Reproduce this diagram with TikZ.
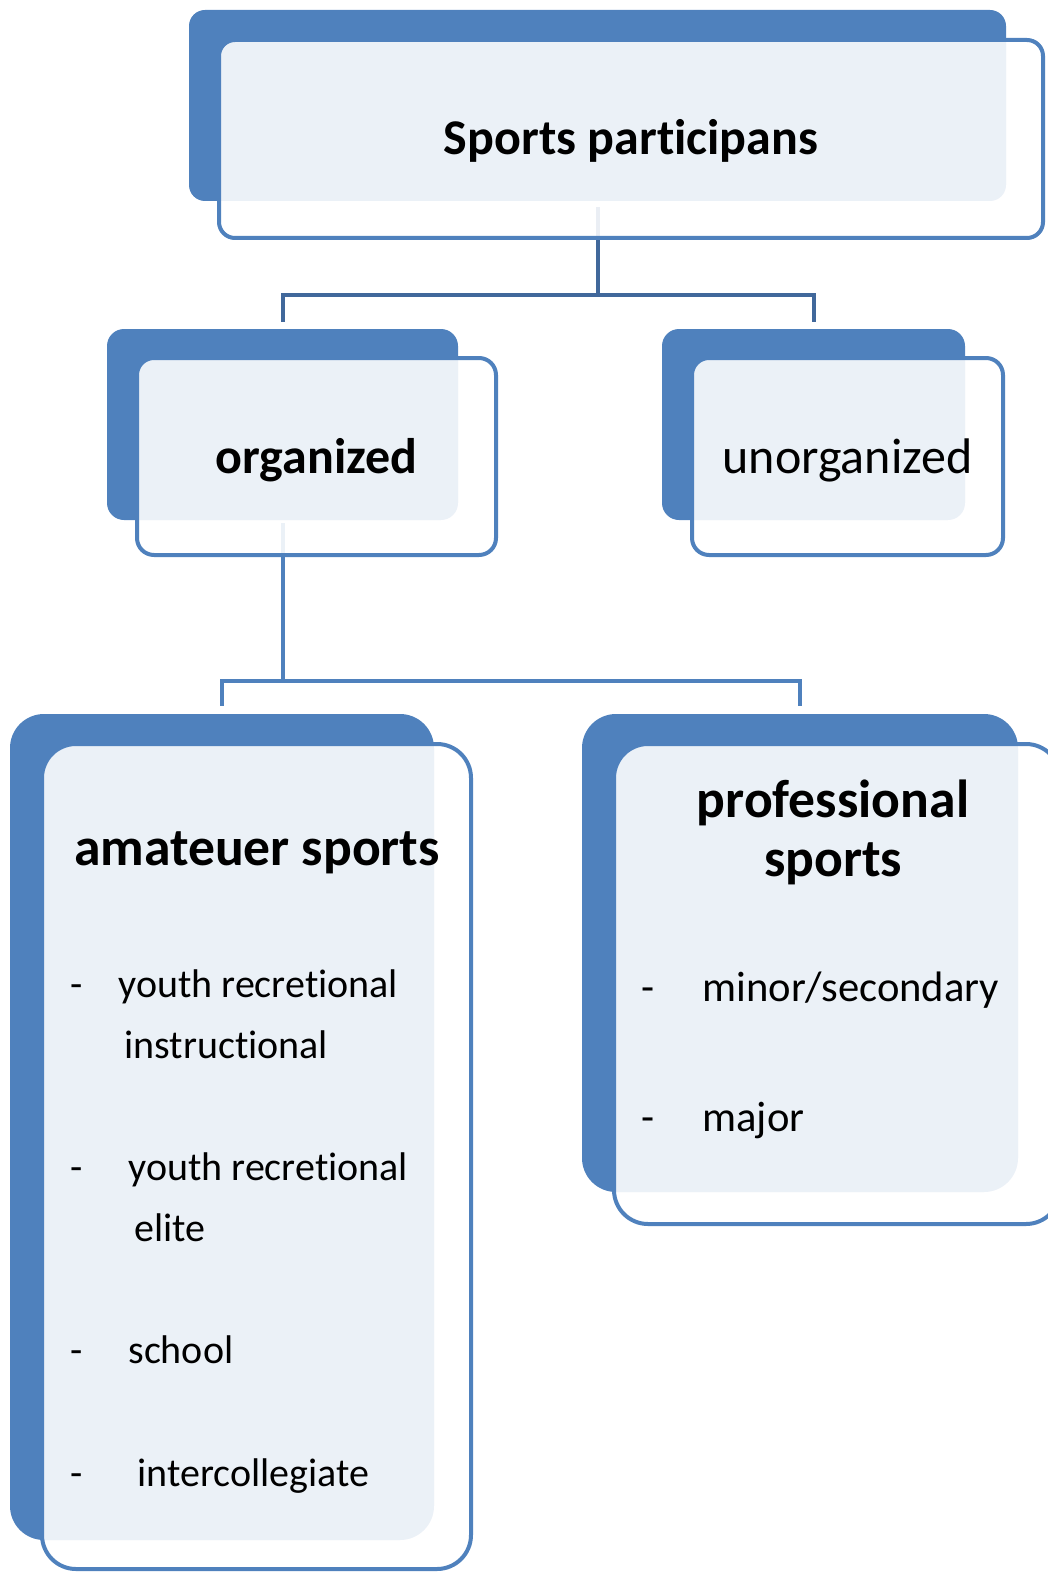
\documentclass[tikz,border=0pt]{standalone}
\usepackage{fontspec}
\setmainfont{Carlito}[Ligatures=NoCommon]
\usetikzlibrary{calc,fit,backgrounds}
\definecolor{boxblue}{RGB}{79,129,189}
\definecolor{linkblue}{RGB}{65,104,155}
\newcommand{\boxfont}{\fontsize{25}{28}\selectfont}
\newcommand{\headfont}{\fontsize{26.8}{29.5}\selectfont\bfseries}

\begin{document}
\begin{tikzpicture}[x=0.5pt,y=-0.5pt,
	backbox/.style={fill=boxblue,inner sep=0pt,rounded corners=#1},
	backbox/.default=8pt,
	frontbox/.style={draw=boxblue,line width=2pt,fill=white,fill opacity=0.89,
		inner sep=0pt,rounded corners=#1},
	frontbox/.default=8pt,
	label/.style={inner sep=0pt,font=\boxfont},
	item/.style={inner sep=0pt,font=\fontsize{#1}{24}\selectfont,anchor=base west},
	item/.default=20,
	link/.style={draw=boxblue,line width=2pt}]
	\useasboundingbox (0,0) rectangle (1048,1573);

	% top level
	\node[backbox,fit={(189,10) (1006,201)}] (topb) {};
	\node[frontbox,fit={(219,40) (1043,238)}] (top) {};
	\node[label,font=\boxfont\bfseries] (top-t) at ($(top)+(0,2)$) {Sports participans};

	% second level
	\node[backbox=8.5pt,fit={(107,329) (458,520)}] (orgb) {};
	\node[frontbox=8.5pt,fit={(137,358) (496,555)}] (org) {};
	\node[label,font=\boxfont\bfseries] (org-t) at ($(org)+(0,4)$) {organized};
	\node[backbox=8.5pt,fit={(662,329) (965,520)}] (unorgb) {};
	\node[frontbox=8.5pt,fit={(692,358) (1003,555)}] (unorg) {};
	\node[label] (unorg-t) at ($(unorg)+(0,4)$) {unorganized};

	% third level
	\node[backbox=17pt,fit={(10,714) (434,1540)}] (amb) {};
	\node[frontbox=17pt,fit={(42,744) (471,1569)}] (am) {};
	\node[backbox=17pt,fit={(582,714) (1018,1192)}] (prob) {};
	\node[frontbox=17pt,fit={(614,744) (1060,1224)}] (pro) {};

	\node[inner sep=0pt,font=\headfont,anchor=base] (am-t) at (257,865) {amateuer sports};
	\node[item] (am-d1) at (70,997) {-};
	\node[item] (am-1) at (118,997) {youth recretional};
	\node[item] (am-1b) at (124,1058) {instructional};
	\node[item] (am-d2) at (70,1180) {-};
	\node[item] (am-2) at (128,1180) {youth recretional};
	\node[item] (am-2b) at (134,1241) {elite};
	\node[item] (am-d3) at (70,1363) {-};
	\node[item] (am-3) at (128,1363) {school};
	\node[item] (am-d4) at (70,1486) {-};
	\node[item] (am-4) at (137,1486) {intercollegiate};

	\node[inner sep=0pt,font=\headfont,align=center] (pro-t) at (833,832) {professional\\sports};
	\node[item=21.3] (pro-d1) at (641,1001) {-};
	\node[item=21.3] (pro-1) at (702,1001) {minor/secondary};
	\node[item=21.3] (pro-d2) at (641,1131) {-};
	\node[item=21.3] (pro-2) at (702,1131) {major};

	% connectors run under the boxes
	\begin{pgfonlayer}{background}
		\draw[link,draw=linkblue] ($(topb.south)+(0,6)$) -- ($(topb.south)+(0,94)$) coordinate (j1);
		\draw[link,draw=linkblue] ($(orgb.north)+(0,-7)$) |- (j1) -| ($(unorgb.north)+(0,-7)$);
		\draw[link] ($(orgb.south)+(0,3)$) -- ($(orgb.south)+(0,161)$) coordinate (j2);
		\draw[link] ($(amb.north)+(0,-8)$) |- (j2) -| ($(prob.north)+(0,-8)$);
	\end{pgfonlayer}
\end{tikzpicture}
\end{document}
